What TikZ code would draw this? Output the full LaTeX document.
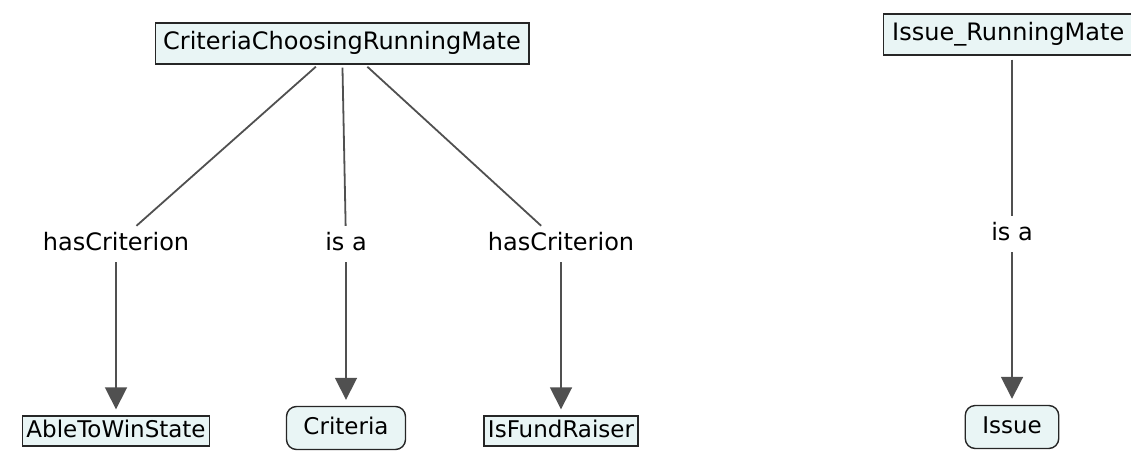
\documentclass[tikz,border=0pt]{standalone}
\usepackage{fontspec}
\setmainfont{DejaVu Sans}
\usetikzlibrary{arrows.meta}
\definecolor{nodefill}{HTML}{E9F5F5}
\definecolor{linegray}{HTML}{505050}
\tikzset{
  concept/.style={draw=black!85, line width=1.4pt, fill=nodefill, inner xsep=8pt, inner ysep=8.5pt,
    text height=18.2pt, text depth=5.8pt, font=\fontsize{24}{28}\selectfont},
  bconcept/.style={concept, inner xsep=4pt, inner ysep=3.5pt, text height=17.5pt, text depth=5.5pt, font=\fontsize{23}{27}\selectfont},
  rconcept/.style={concept, rounded corners=10pt, inner xsep=17pt, inner ysep=10pt, text height=17.5pt, text depth=5.5pt, font=\fontsize{23}{27}\selectfont},
  lbl/.style={font=\fontsize{24}{28}\selectfont, inner xsep=2pt, inner ysep=6pt, text height=18.2pt, text depth=5.8pt},
  conn/.style={draw=linegray, line width=1.8pt},
  arr/.style={conn, -{Triangle[width=22pt,length=22pt]}, shorten >=6pt},
}
\begin{document}
\begin{tikzpicture}[x=1pt,y=-1pt]
\useasboundingbox (0,0) rectangle (1131,452);
\node[concept] (ccrm) at (342,43.5) {CriteriaChoosingRunningMate};
\node[lbl] (hc1) at (116,244) {hasCriterion};
\node[lbl] (isa1) at (346,244) {is a};
\node[lbl] (hc2) at (561,244) {hasCriterion};
\node[bconcept] (able) at (116,431) {AbleToWinState};
\node[rconcept] (crit) at (346,428) {Criteria};
\node[bconcept] (fund) at (561,431) {IsFundRaiser};
\node[concept, anchor=west, inner xsep=9pt, text width=245pt, align=left] (irm) at (882.5,34.5) {Issue\_RunningMate};
\node[lbl] (isa2) at (1012,234) {is a};
\node[rconcept] (issue) at (1012,427) {Issue};
\draw[conn, shorten <=3pt] (ccrm) -- (hc1);
\draw[conn, shorten <=3pt] (ccrm) -- (isa1);
\draw[conn, shorten <=3pt] (ccrm) -- (hc2);
\draw[arr] (hc1.south) -- (hc1.south |- able.north);
\draw[arr] (isa1.south) -- (isa1.south |- crit.north);
\draw[arr] (hc2.south) -- (hc2.south |- fund.north);
\draw[conn, shorten <=4pt] (irm.south -| isa2.north) -- (isa2.north);
\draw[arr] (isa2.south) -- (isa2.south |- issue.north);
\end{tikzpicture}
\end{document}
